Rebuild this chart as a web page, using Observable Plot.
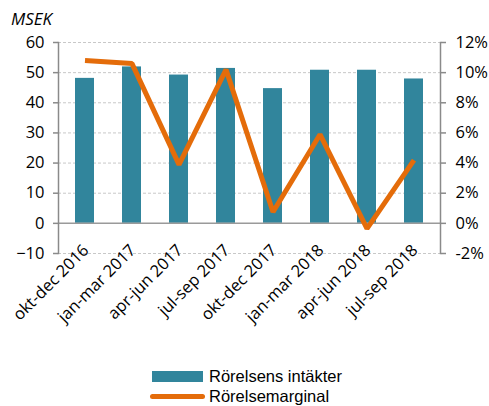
<!DOCTYPE html>
<html>
<head>
<meta charset="utf-8">
<script src="https://cdn.jsdelivr.net/npm/d3@7"></script>
<script src="https://cdn.jsdelivr.net/npm/@observablehq/plot@0.6"></script>
<style>
  body { margin: 0; background: #fff; font-family: "Open Sans", sans-serif; }
  #wrap { position: relative; width: 489px; height: 406px; overflow: hidden; }
  #unit { position: absolute; left: 11px; top: 7px; font-style: italic; font-size: 17px; color: #000; }
  #legend { position: absolute; left: 150px; top: 367px; font-family: "Liberation Sans", Arial, sans-serif; font-size: 16.5px; line-height: 19.5px; color: #000; }
  .row { display: flex; align-items: center; height: 19.8px; }
  .row span { display: inline-block; height: 19.5px; line-height: 19.5px; }
  .sw { width: 55px; display: flex; justify-content: center; margin-right: 4px; }
</style>
</head>
<body>
<div id="wrap">
  <div id="chart"></div>
  <div id="unit">MSEK</div>
  <div id="legend">
    <div class="row"><div class="sw"><div style="width:51px;height:11px;background:#31859C"></div></div><span>Rörelsens intäkter</span></div>
    <div class="row"><div class="sw"><div style="width:55px;height:5px;border-radius:3px;background:#E46C0A"></div></div><span>Rörelsemarginal</span></div>
  </div>
</div>
<script>
const periods = ["okt-dec 2016","jan-mar 2017","apr-jun 2017","jul-sep 2017","okt-dec 2017","jan-mar 2018","apr-jun 2018","jul-sep 2018"];
const revenue = [48.1, 51.9, 49.2, 51.4, 44.7, 50.8, 50.8, 47.9];
const margin = [10.8, 10.6, 3.9, 10.2, 0.75, 5.9, -0.35, 4.2];
const leftTicks = [-10, 0, 10, 20, 30, 40, 50, 60];
const rightTicks = [-2, 0, 2, 4, 6, 8, 10, 12];
const ratio = 5; // 12% on right axis aligns with 60 on left axis

const data = periods.map((p, i) => ({period: p, revenue: revenue[i], margin: margin[i]}));

const chart = Plot.plot({
  width: 489,
  height: 362,
  marginTop: 42,
  marginBottom: 109,
  marginLeft: 58,
  marginRight: 49,
  style: {fontFamily: "Open Sans, sans-serif", fontSize: "16.5px", color: "#000"},
  x: {domain: periods, paddingInner: 0.6, paddingOuter: 0.3},
  y: {domain: [-10, 60]},
  marks: [
    Plot.ruleY(leftTicks.filter(d => d !== 0), {stroke: "#c8c8c8", strokeDasharray: "3,2", strokeWidth: 1}),
    Plot.barY(data, {x: "period", y: "revenue", fill: "#31859C"}),
    Plot.ruleY([0], {stroke: "#9a9a9a", strokeWidth: 1.5}),
    Plot.lineY(data, {x: "period", y: d => d.margin * ratio, stroke: "#E46C0A", strokeWidth: 5, strokeLinejoin: "miter", strokeLinecap: "butt"}),
    Plot.frame({anchor: "left", stroke: "#8a8a8a", strokeWidth: 1.5}),
    Plot.frame({anchor: "right", stroke: "#8a8a8a", strokeWidth: 1.5}),
    Plot.axisY({anchor: "left", ticks: leftTicks, tickSize: 5, tickPadding: 9, stroke: "#8a8a8a", strokeWidth: 1.5, fill: "#000", label: null}),
    Plot.axisY({anchor: "right", ticks: rightTicks.map(d => d * ratio), tickFormat: d => (d / ratio) + "%", tickSize: 5, tickPadding: 10, stroke: "#8a8a8a", strokeWidth: 1.5, fill: "#000", label: null}),
    Plot.axisX({tickRotate: -45, tickSize: 0, tickPadding: 0, dy: -6, dx: 1, fill: "#000", label: null})
  ]
});
document.getElementById("chart").appendChild(chart);
</script>
</body>
</html>
